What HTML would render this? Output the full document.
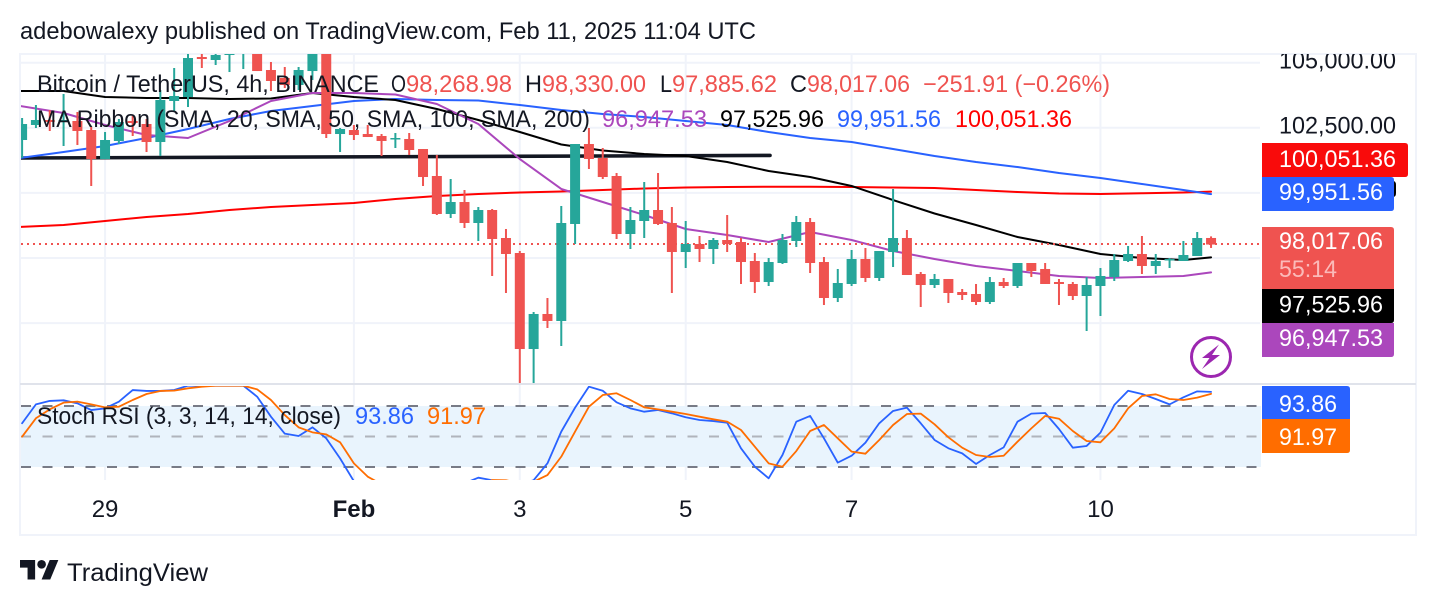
<!DOCTYPE html>
<html lang="en">
<head>
<meta charset="utf-8">
<title>BTC/USDT chart</title>
<style>
html,body{margin:0;padding:0;background:#fff;width:1436px;height:606px;overflow:hidden}
svg{display:block}
text{font-family:"Liberation Sans",sans-serif;font-size:24px;fill:#131722}
.w{fill:#fff}
</style>
</head>
<body>
<svg id="chart" xmlns="http://www.w3.org/2000/svg" width="1436" height="606" viewBox="0 0 1436 606">
<defs>
<clipPath id="clip-main"><rect x="21" y="54" width="1240" height="329"/></clipPath>
<clipPath id="clip-stoch"><rect x="21" y="386" width="1240" height="94"/></clipPath>
<clipPath id="clip-axis"><rect x="1262" y="54" width="153" height="329"/></clipPath>
</defs>

<text x="20" y="39" textLength="736" lengthAdjust="spacingAndGlyphs">adebowalexy published on TradingView.com, Feb 11, 2025 11:04 UTC</text>

<rect x="20" y="54" width="1396" height="481" fill="none" stroke="#f0f3fa" stroke-width="2"/>
<g id="grid"></g>

<rect x="21" y="406" width="1240" height="61" fill="#e9f4fd"/>
<line x1="21" x2="1261" y1="406" y2="406" stroke="#787b86" stroke-width="2" stroke-dasharray="10 11.5"/>
<line x1="21" x2="1261" y1="436.5" y2="436.5" stroke="#b0b4bc" stroke-width="2" stroke-dasharray="10 11.5"/>
<line x1="21" x2="1261" y1="467" y2="467" stroke="#787b86" stroke-width="2" stroke-dasharray="10 11.5"/>
<line x1="20" x2="1416" y1="384" y2="384" stroke="#e0e3eb" stroke-width="2"/>

<g clip-path="url(#clip-main)">
  <g id="lines"></g>
  <line x1="21" x2="1261" y1="244" y2="244" stroke="#ef5350" stroke-width="2" stroke-dasharray="2 4"/>
  <g id="candles"></g>
</g>
<g clip-path="url(#clip-stoch)" id="stoch"></g>

<g>
<text x="37" y="92" textLength="342" lengthAdjust="spacingAndGlyphs">Bitcoin / TetherUS, 4h, BINANCE</text>
<text x="391" y="92" textLength="15" lengthAdjust="spacingAndGlyphs">O</text>
<text x="406" y="92" textLength="106" lengthAdjust="spacingAndGlyphs" style="fill:#ef5350">98,268.98</text>
<text x="525" y="92" textLength="17" lengthAdjust="spacingAndGlyphs">H</text>
<text x="542" y="92" textLength="104" lengthAdjust="spacingAndGlyphs" style="fill:#ef5350">98,330.00</text>
<text x="660" y="92" textLength="12" lengthAdjust="spacingAndGlyphs">L</text>
<text x="672" y="92" textLength="105" lengthAdjust="spacingAndGlyphs" style="fill:#ef5350">97,885.62</text>
<text x="790" y="92" textLength="17" lengthAdjust="spacingAndGlyphs">C</text>
<text x="807" y="92" textLength="103" lengthAdjust="spacingAndGlyphs" style="fill:#ef5350">98,017.06</text>
<text x="923" y="92" textLength="187" lengthAdjust="spacingAndGlyphs" style="fill:#ef5350">−251.91 (−0.26%)</text>
</g>
<g>
<text x="37" y="127" textLength="553" lengthAdjust="spacingAndGlyphs">MA Ribbon (SMA, 20, SMA, 50, SMA, 100, SMA, 200)</text>
<text x="602" y="127" textLength="105" lengthAdjust="spacingAndGlyphs" style="fill:#ab47bc">96,947.53</text>
<text x="720" y="127" textLength="104" lengthAdjust="spacingAndGlyphs" style="fill:#000">97,525.96</text>
<text x="837" y="127" textLength="104" lengthAdjust="spacingAndGlyphs" style="fill:#2962ff">99,951.56</text>
<text x="955" y="127" textLength="117" lengthAdjust="spacingAndGlyphs" style="fill:#ff0000">100,051.36</text>
</g>
<g>
<text x="37" y="424" textLength="304" lengthAdjust="spacingAndGlyphs">Stoch RSI (3, 3, 14, 14, close)</text>
<text x="355" y="424" textLength="59" lengthAdjust="spacingAndGlyphs" style="fill:#2962ff">93.86</text>
<text x="427" y="424" textLength="59" lengthAdjust="spacingAndGlyphs" style="fill:#ff6d00">91.97</text>
</g>

<g>
<g clip-path="url(#clip-axis)"><text x="1279" y="68.5" textLength="117" lengthAdjust="spacingAndGlyphs">105,000.00</text></g>
<text x="1279" y="133.5" textLength="117" lengthAdjust="spacingAndGlyphs">102,500.00</text>
<path d="M1390 181h3q3 0 3 4v8q0 4-3 4h-3z" fill="#000"/>
<path d="M1262 143h143q3 0 3 3v28q0 3-3 3h-143z" fill="#f90b0b"/>
<text class="w" x="1279" y="167" textLength="117" lengthAdjust="spacingAndGlyphs">100,051.36</text>
<path d="M1262 177h129q3 0 3 3v28q0 3-3 3h-129z" fill="#2962ff"/>
<text class="w" x="1279" y="200" textLength="104" lengthAdjust="spacingAndGlyphs">99,951.56</text>
<path d="M1262 227h129q3 0 3 3v59h-132z" fill="#ef5350"/>
<text class="w" x="1279" y="249" textLength="104" lengthAdjust="spacingAndGlyphs">98,017.06</text>
<text x="1279" y="277" textLength="58" lengthAdjust="spacingAndGlyphs" style="fill:#fbbab9">55:14</text>
<path d="M1262 289h132v31q0 3-3 3h-129z" fill="#000"/>
<text class="w" x="1279" y="312.5" textLength="104" lengthAdjust="spacingAndGlyphs">97,525.96</text>
<path d="M1262 323h132v31q0 3-3 3h-129z" fill="#ab47bc"/>
<text class="w" x="1279" y="346" textLength="104" lengthAdjust="spacingAndGlyphs">96,947.53</text>
</g>
<g>
<path d="M1262 386h85q3 0 3 3v30h-88z" fill="#2962ff"/>
<text class="w" x="1279" y="412" textLength="58" lengthAdjust="spacingAndGlyphs">93.86</text>
<path d="M1262 419h88v31q0 3-3 3h-85z" fill="#ff6d00"/>
<text class="w" x="1279" y="445" textLength="58" lengthAdjust="spacingAndGlyphs">91.97</text>
</g>

<g>
<circle cx="1211" cy="357" r="19.5" fill="#fff" stroke="#9c27b0" stroke-width="3"/>
<path d="M1219 344.5l-17 13.5h7.5l-7.5 11 18-14h-8z" fill="#9c27b0"/>
</g>

<g id="time-axis"></g>

<g>
<g transform="translate(20 555.7) scale(1.08)" fill="#131722">
<path d="M14 22H7V11H0V4h14v18zM28 22h-8l7.5-18h8L28 22z"/>
<circle cx="20" cy="8" r="4"/>
</g>
<text x="67" y="581" textLength="141" lengthAdjust="spacingAndGlyphs" style="font-size:25px">TradingView</text>
</g>
</svg>

<script>
const opens = [
102031,102607,102799,102722,102761,102415,101301,101993,102761,102646,
101954,103529,103682,105218,105103,105295,105410,105487,104719,104412,
104143,104680,105487,102261,102415,102261,102185,102070,102070,101685,
100649,99190,99650,98844,99343,98268,97692,94005,95350,95081,
98806,101877,101340,100649,98422,98921,99343,98844,97730,98038,
97846,98191,98114,97385,96578,97308,98153,98882,97346,95964,
96502,97462,96732,97730,98268,96886,96463,96694,96194,96118,
95810,96578,96425,97308,97078,96578,96502,96041,96425,96770,
97385,97654,97193,97423,97385,97577,98269];
const highs = [
102876,103375,103183,103797,103106,102530,102338,102838,102953,102838,
103951,104796,105500,105334,105487,105564,105602,105640,105026,104834,
104834,105679,105679,102492,102607,102607,102261,102300,102300,101685,
101455,100533,100111,99458,99382,98614,97769,95426,95964,99497,
101877,102492,101724,100764,99458,100418,100764,99458,98921,98345,
98268,99151,98268,97692,97500,98422,99113,99036,97538,97078,
97807,97884,97769,100150,98575,96962,96886,96694,96310,96502,
96770,96732,97308,97308,97308,96694,96578,96770,97116,97654,
97961,98345,97654,97500,98153,98498,98330];
const lows = [
101340,102492,102377,101801,101839,100265,101301,101877,102185,101570,
101417,103145,103298,104796,104911,104642,104757,104680,103913,104028,
103951,104335,102108,101570,102031,102146,101417,101724,101455,100265,
99151,99036,98652,98153,96809,96156,92500,92500,94812,94121,
98038,100918,100533,98230,97846,98268,98767,96156,97116,97346,
97270,97730,96502,96156,96425,97270,97922,96924,95695,95810,
96425,96578,96617,97154,96847,95618,96348,95772,95887,95695,
95734,96348,96348,96770,96502,95695,95887,94697,95273,96617,
97346,96886,96886,97116,97385,97577,97886];
const closes = [
102645,102799,102722,102799,102377,101301,102031,102722,102684,101954,
103567,103721,105180,105141,105295,105410,105487,104680,104297,104143,
104719,105487,102261,102454,102223,102146,101993,102108,101647,100610,
99190,99650,98844,99343,98230,97654,94005,95350,95081,98844,
101877,101301,100610,98422,98959,99343,98806,97730,98038,97846,
98191,98038,97346,96578,97346,98191,98882,97308,95964,96540,
97462,96732,97769,98268,96847,96463,96694,96156,96079,95810,
96578,96425,97308,97001,96502,96502,96041,96463,96809,97423,
97654,97193,97385,97462,97615,98268,98017];

const maBars = [-0.15,3,6,9,12,15,18,21,24,27,30,33,36,39,42,45,48,51,54,57,60,63,66,69,72,75,78,81,84,86];
const sma20 = [103337,103068,102607,102223,102108,102761,103529,103836,103836,103778,103414,102646,101301,100150,99650,99151,98614,98383,98114,98498,98191,97769,97462,97193,97001,96809,96732,96770,96809,96948];
const sma50 = [103913,103913,103682,103644,103644,103606,103625,103836,103682,103567,103222,102799,102338,101858,101628,101494,101417,101186,100841,100610,100265,99727,99209,98767,98306,97999,97654,97500,97423,97526];
const sma100 = [101340,101570,101801,102108,102454,102838,103145,103337,103529,103606,103567,103548,103375,103183,103030,102914,102761,102607,102338,102108,101954,101686,101417,101186,100994,100764,100572,100342,100111,99952];
const sma200 = [98692,98767,98921,99074,99190,99343,99458,99535,99612,99766,99881,99958,100015,100054,100111,100169,100207,100226,100238,100234,100226,100207,100188,100111,100034,99977,99958,99985,100015,100051];

const trendBars = [-0.15,54.1];
const trendPrices = [101340,101440];

const stochK = [63,81.6,85,85.6,82.6,76,77.7,84.3,95.7,94.8,94.8,95.7,100,100,100,100,100,89.2,69.5,52.8,50.5,59,48.2,28.5,6,0,0,0,0,0,0,0,4,9.5,7,5,3,7,23.6,54.8,78.4,99,95,83.6,77.7,
74.4,76.1,72.8,68.9,66.2,65.2,63.6,38.4,20.3,8.9,31.8,64.6,70.2,48.2,24.3,31.1,43.9,63,75.1,78.4,63,46.6,38.4,33.4,23,31.8,39.3,64.6,72.5,73.1,57.4,39,40.7,53.8,81,95,91.8,86.9,81.6,88.5,94.4,93.86];
const stochD = [49.8,67.9,76.7,83.3,84.3,81.6,78.7,79.3,85.9,91.8,94.8,95.1,97.4,99,100,100,100,96.4,85.9,71.1,59,54.1,52.1,44.3,23.6,10.5,3,0,0,0,0,0,0,0,7.2,7,4,5.5,12.1,30.2,54.8,79.3,90.8,92.5,85.9,
78.7,76.7,74.4,72.1,69.5,66.9,64.6,56.4,40,23.6,20.3,35.7,55.4,61.3,48.2,35.1,33.1,46.6,61.3,72.1,72.5,62,49.2,39,31.8,29.8,31.1,44.9,58,70.2,67.5,55.4,45.6,44.3,58,77.7,89.8,91.5,86.9,85.9,88.2,91.97];

const gridPrices = [105000,102500,100000,97500,95000];
const timeLabels = ["29","Feb","3","5","7","10"];
const timeBars = [6,24,36,48,60,78];

const NS = "http://www.w3.org/2000/svg";
function barX(i){ return 22.1 + 13.825 * i; }
function priceY(p){ return 258 - (p - 97500) / 38.4; }
function stochY(v){ return 406 + (80 - v) * 1.0167; }
function make(tag, parent, attrs){
  const el = document.createElementNS(NS, tag);
  for (const k in attrs) el.setAttribute(k, attrs[k]);
  parent.appendChild(el);
  return el;
}

const grid = document.getElementById("grid");
gridPrices.forEach(function(p){
  const el = make("line", grid, {x1:21, x2:1260, y1:priceY(p), y2:priceY(p), stroke:"#f0f3fa", "stroke-width":2});
  
  
});
timeBars.forEach(function(b){
  const el = make("line", grid, {x1:barX(b), x2:barX(b), y1:55, y2:480, stroke:"#f0f3fa", "stroke-width":2});
  
  
});

const axis = document.getElementById("time-axis");
timeLabels.forEach(function(label, n){
  const el = make("text", axis, {x:barX(timeBars[n]), y:517, "text-anchor":"middle"});
  el.textContent = label;
  if (label === "Feb") el.setAttribute("font-weight", "bold");
  
  
});

function drawLine(parent, xs, ys, color, width, name){
  const pts = xs.map(function(x, i){ return x.toFixed(2) + "," + ys[i].toFixed(2); }).join(" ");
  const el = make("polyline", parent, {points:pts, fill:"none", stroke:color, "stroke-width":width, "stroke-linejoin":"round", "stroke-linecap":"round"});
  
  
}

const lineGroup = document.getElementById("lines");
const maXs = maBars.map(barX);
drawLine(lineGroup, trendBars.map(barX), trendPrices.map(priceY), "#131722", 3.6, "drawn-trendline");
drawLine(lineGroup, maXs, sma200.map(priceY), "#ff0000", 2, "sma200-line");
drawLine(lineGroup, maXs, sma100.map(priceY), "#2962ff", 2, "sma100-line");
drawLine(lineGroup, maXs, sma50.map(priceY), "#000000", 2, "sma50-line");
drawLine(lineGroup, maXs, sma20.map(priceY), "#ab47bc", 2, "sma20-line");

const candleGroup = document.getElementById("candles");
opens.forEach(function(o, i){
  const c = closes[i];
  const color = c >= o ? "#26a69a" : "#ef5350";
  const x = barX(i);
  const g = make("g", candleGroup, {});
  
  
  make("rect", g, {x:x - 1, width:2, y:priceY(highs[i]), height:Math.max(1, priceY(lows[i]) - priceY(highs[i])), fill:color});
  const top = priceY(Math.max(o, c));
  const bottom = priceY(Math.min(o, c));
  make("rect", g, {x:x - 5, width:10, y:top, height:Math.max(1.5, bottom - top), fill:color});
});

const stochGroup = document.getElementById("stoch");
const stochXs = stochK.map(function(v, i){ return barX(i); });
drawLine(stochGroup, stochXs, stochK.map(stochY), "#2962ff", 1.8, "stoch-k-line");
drawLine(stochGroup, stochXs, stochD.map(stochY), "#ff6d00", 1.8, "stoch-d-line");
</script>
</body>
</html>
